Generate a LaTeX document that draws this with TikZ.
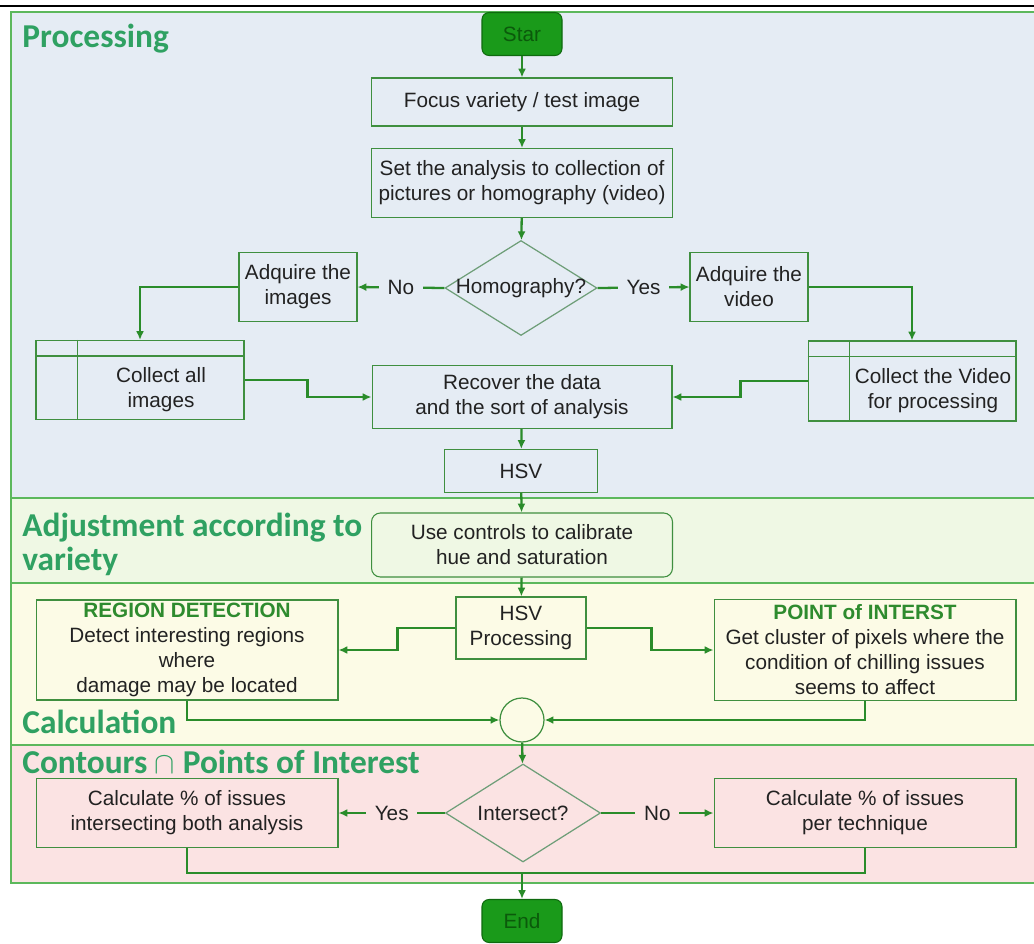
\documentclass[tikz,border=0pt]{standalone}
\usepackage{fontspec}
\setmainfont{Liberation Sans}
\newfontfamily\titlefont{Carlito}
\usetikzlibrary{shapes.geometric,arrows.meta,calc}
\definecolor{bandblue}{HTML}{E5ECF4}
\definecolor{bandgreen}{HTML}{EFF8E4}
\definecolor{bandyellow}{HTML}{FCFBE6}
\definecolor{bandpink}{HTML}{FBE3E3}
\definecolor{bandline}{HTML}{5CB85C}
\definecolor{boxgreen}{HTML}{3F8F3F}
\definecolor{diagreen}{HTML}{6E9E78}
\definecolor{arrgreen}{HTML}{2A8C2A}
\definecolor{titlegreen}{HTML}{2FA162}
\definecolor{hdgreen}{HTML}{2E8B2E}
\definecolor{termfill}{HTML}{1A9A1A}
\definecolor{termdraw}{HTML}{0F6A0F}
\definecolor{termtext}{HTML}{0B5A0B}
\definecolor{txtgray}{HTML}{222222}

\begin{document}
\begin{tikzpicture}
[x=0.02cm,y=-0.02cm,%
  every node/.style={font=\fontsize{11.8}{14.2}\selectfont,text=txtgray,align=center},%
  box/.style={draw=boxgreen,line width=0.6pt,inner sep=1pt},%
  term/.style={draw=termdraw,fill=termfill,line width=0.6pt,rounded corners=4pt,text=termtext,minimum width=1.6cm,minimum height=0.86cm},%
  decision/.style={diamond,draw=diagreen,line width=0.7pt,inner sep=0pt},%
  arr/.style={-{Latex[length=5pt,width=4.5pt]},draw=arrgreen,line width=1.3pt},%
  link/.style={draw=arrgreen,line width=1.3pt},%
  lbl/.style={inner sep=5pt},%
  band/.style={draw=bandline,line width=0.8pt},%
  title/.style={font=\titlefont\bfseries\fontsize{19}{19}\selectfont,text=titlegreen,align=left,anchor=base west,inner sep=0pt}]
\useasboundingbox (0,0) rectangle (1034,943);
% bands
\draw[line width=0.9pt] (0,6) -- (1034,6);
\fill[bandblue] (11,12) rectangle (1034,498);
\fill[bandgreen] (11,498) rectangle (1034,583);
\fill[bandyellow] (11,583) rectangle (1034,745);
\fill[bandpink] (11,745) rectangle (1034,883);
\draw[band] (1034,12) -- (11,12) -- (11,883) -- (1034,883);
\foreach \y in {498,583,745}
  \draw[band] (11,\y) -- (1034,\y);
\node[title] (tproc) at (22,47) {Processing};
\node[title] (tadj) at (22,570) {Adjustment according to\\variety};
\node[title] (tcalc) at (22,733) {Calculation};
\node[title] (tcont) at (22,773) {Contours $\cap$ Points of Interest};
% processing
\node[term] (start) at (522,34) {Star};
\node[box,minimum width=6.02cm,minimum height=0.96cm] (focus) at (522,102) {Focus variety / test image};
\node[box,minimum width=6.02cm,minimum height=1.38cm] (setan) at (522,183)
  {Set the analysis to collection of\\pictures or homography (video)};
\node[decision,minimum width=3.04cm,minimum height=1.9cm] (homog) at (521,288) {\makebox[0pt]{Homography?}};
\node[box,minimum width=2.36cm,minimum height=1.38cm] (adqimg) at (298,287) {Adquire the\\images};
\node[box,minimum width=2.36cm,minimum height=1.38cm] (adqvid) at (749,287) {Adquire the\\video};
\node[box,minimum width=4.16cm,minimum height=1.58cm] (collimg) at (140,380) {};
\node (collimgtxt) at ($(collimg)+(21,10)$) {Collect all\\images};
\node[box,minimum width=4.16cm,minimum height=1.6cm] (collvid) at (912,381) {};
\node (collvidtxt) at ($(collvid)+(21,10)$) {Collect the Video\\for processing};
\foreach \n in {collimg,collvid} {
  \draw[draw=boxgreen,line width=0.6pt] ($(\n.north west)+(0,16)$) -- ($(\n.north east)+(0,16)$);
  \draw[draw=boxgreen,line width=0.6pt] ($(\n.north west)+(42,0)$) -- ($(\n.south west)+(42,0)$);
}
\node[box,minimum width=6.0cm,minimum height=1.26cm] (recover) at (522,397)
  {Recover the data\\and the sort of analysis};
\node[box,minimum width=3.06cm,minimum height=0.86cm] (hsv) at (521,471) {HSV};
% adjustment
\node[box,rounded corners=5pt,minimum width=6.02cm,minimum height=1.28cm] (usectl) at (522,545)
  {Use controls to calibrate\\hue and saturation};
% calculation
\node[box,minimum width=2.6cm,minimum height=1.24cm] (hsvproc) at (521,628) {HSV\\Processing};
\node[box,minimum width=6.04cm,minimum height=2.0cm,inner sep=0pt] (region) at (187,650)
  {\textcolor{hdgreen}{\bfseries REGION DETECTION}\\Detect interesting regions\\where\\damage may be located};
\node[box,minimum width=6.04cm,minimum height=2.02cm,inner sep=0pt] (poi) at (865,650)
  {\textcolor{hdgreen}{\bfseries POINT of INTERST}\\Get cluster of pixels where the\\condition of chilling issues\\seems to affect};
\node[circle,draw=boxgreen,line width=0.7pt,minimum size=0.88cm,inner sep=0pt] (join) at (522,720) {};
% contours
\node[decision,minimum width=3.1cm,minimum height=1.96cm] (inters) at (523,813) {\makebox[0pt]{Intersect?}};
\node[box,minimum width=6.04cm,minimum height=1.38cm] (both) at (187,813)
  {Calculate \% of issues\\intersecting both analysis};
\node[box,minimum width=6.04cm,minimum height=1.38cm] (pertech) at (865,813)
  {Calculate \% of issues\\per technique};
\coordinate (merge) at (522,873);
\node[term] (end) at (522,921) {End};
% connectors
\draw[arr] (start) -- (focus);
\draw[arr] (focus) -- (setan);
\draw[arr] (setan) -- (homog);
\draw[arr] (homog.west) -- node[lbl,fill=bandblue] (lno) {No} (adqimg.east);
\draw[arr] (homog.east) -- node[lbl,fill=bandblue] (lyes) {Yes} (adqvid.west);
\draw[arr] (adqimg.west) -| (collimg.north);
\draw[arr] (adqvid.east) -| (collvid.north);
\draw[arr] (collimg.east) -- +(63,0) |- (recover.west);
\draw[arr] (collvid.west) -- +(-67,0) |- (recover.east);
\draw[arr] (recover) -- (hsv);
\draw[arr] (hsv) -- (usectl);
\draw[arr] (usectl) -- (hsvproc);
\draw[arr] (hsvproc.west) -- +(-58,0) |- (region.east);
\draw[arr] (hsvproc.east) -- +(65,0) |- (poi.west);
\draw[arr] (region.south) |- (join.west);
\draw[arr] (poi.south) |- (join.east);
\draw[arr] (join) -- (inters);
\draw[arr] (inters.west) -- node[lbl,fill=bandpink] (lyes2) {Yes} (both.east);
\draw[arr] (inters.east) -- node[lbl,fill=bandpink] (lno2) {No} (pertech.west);
\draw[link] (both.south) |- (merge);
\draw[link] (pertech.south) |- (merge);
\draw[arr] (merge) -- (end);
\end{tikzpicture}
\end{document}
